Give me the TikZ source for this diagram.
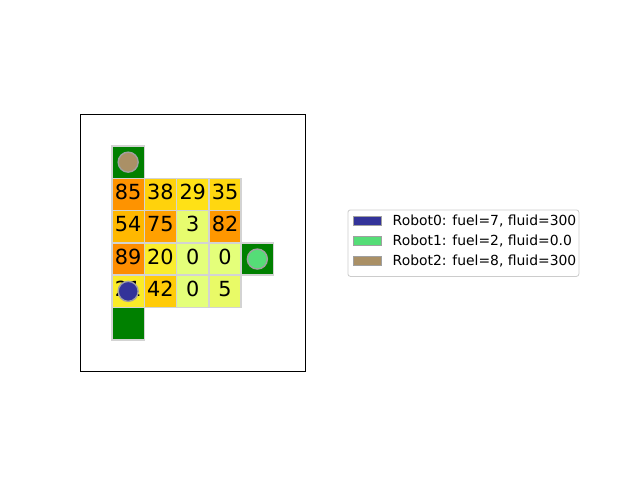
\documentclass[tikz,border=0pt]{standalone}
\usepackage{fontspec}
\setmainfont{DejaVu Sans}
\definecolor{c85}{RGB}{254,147,0}
\definecolor{c38}{RGB}{255,210,12}
\definecolor{c29}{RGB}{255,225,22}
\definecolor{c35}{RGB}{255,215,16}
\definecolor{c54}{RGB}{255,184,0}
\definecolor{c75}{RGB}{255,160,0}
\definecolor{c3}{RGB}{231,252,110}
\definecolor{c82}{RGB}{254,151,0}
\definecolor{c89}{RGB}{253,141,0}
\definecolor{c20}{RGB}{250,237,45}
\definecolor{c0}{RGB}{228,255,122}
\definecolor{c21}{RGB}{250,236,41}
\definecolor{c42}{RGB}{255,203,8}
\definecolor{c5}{RGB}{233,250,103}
\definecolor{goal}{RGB}{0,128,0}
\definecolor{celledge}{RGB}{211,211,211}
\definecolor{robotedge}{RGB}{160,160,160}
\definecolor{rzero}{RGB}{51,51,153}
\definecolor{rone}{RGB}{85,221,119}
\definecolor{rtwo}{RGB}{170,144,102}
\definecolor{legendedge}{RGB}{204,204,204}
\tikzset{
  cell/.style={draw=celledge, line width=1.6pt, minimum size=32.3pt, inner sep=0pt, outer sep=0pt},
  num/.style={font=\fontsize{20.8}{24}\selectfont, inner sep=0pt, yshift=2.5pt},
  robot/.style={circle, draw=robotedge, line width=1.4pt, minimum size=20pt, inner sep=0pt},
  handle/.style={draw=robotedge, line width=0.8pt, minimum width=27.5pt, minimum height=8.3pt, inner sep=0pt},
  legtext/.style={font=\fontsize{13.9}{16}\selectfont, inner sep=0pt, anchor=base west},
}
\begin{document}
\begin{tikzpicture}[x=1pt,y=-1pt]
\useasboundingbox (0,0) rectangle (640,480);
% axes frame
\draw[line width=0.8pt] (80.5,114.5) rectangle (305.5,371);
% row 0
\node[cell, fill=goal] (g0) at (128.15,162.15) {};
% row 1
\node[cell, fill=c85] (c10) at (128.15,194.45) {};
\node[cell, fill=c38] (c11) at (160.45,194.45) {};
\node[cell, fill=c29] (c12) at (192.75,194.45) {};
\node[cell, fill=c35] (c13) at (225.05,194.45) {};
% row 2
\node[cell, fill=c54] (c20) at (128.15,226.75) {};
\node[cell, fill=c75] (c21) at (160.45,226.75) {};
\node[cell, fill=c3] (c22) at (192.75,226.75) {};
\node[cell, fill=c82] (c23) at (225.05,226.75) {};
% row 3
\node[cell, fill=c89] (c30) at (128.15,259.05) {};
\node[cell, fill=c20] (c31) at (160.45,259.05) {};
\node[cell, fill=c0] (c32) at (192.75,259.05) {};
\node[cell, fill=c0] (c33) at (225.05,259.05) {};
\node[cell, fill=goal] (g1) at (257.35,259.05) {};
% row 4
\node[cell, fill=c21] (c40) at (128.15,291.35) {};
\node[cell, fill=c42] (c41) at (160.45,291.35) {};
\node[cell, fill=c0] (c42) at (192.75,291.35) {};
\node[cell, fill=c5] (c43) at (225.05,291.35) {};
% row 5
\node[cell, fill=goal] (g2) at (128.15,323.65) {};
% numbers
\node[num] (t10) at (c10.center) {85};
\node[num] (t11) at (c11.center) {38};
\node[num] (t12) at (c12.center) {29};
\node[num] (t13) at (c13.center) {35};
\node[num] (t20) at (c20.center) {54};
\node[num] (t21) at (c21.center) {75};
\node[num] (t22) at (c22.center) {3};
\node[num] (t23) at (c23.center) {82};
\node[num] (t30) at (c30.center) {89};
\node[num] (t31) at (c31.center) {20};
\node[num] (t32) at (c32.center) {0};
\node[num] (t33) at (c33.center) {0};
\node[num] (t40) at (c40.center) {21};
\node[num] (t41) at (c41.center) {42};
\node[num] (t42) at (c42.center) {0};
\node[num] (t43) at (c43.center) {5};
% robots
\node[robot, fill=rtwo] (rb2) at (g0.center) {};
\node[robot, fill=rone] (rb1) at (g1.center) {};
\node[robot, fill=rzero] (rb0) at (c40.center) {};
% legend
\node[draw=legendedge, line width=0.8pt, fill=white, rounded corners=2.5pt, anchor=north west,
      minimum width=231pt, minimum height=66.5pt, inner sep=0pt] (legend) at (347.5,209.5) {};
\node[handle, fill=rzero] (h0) at (367.2,220.8) {};
\node[handle, fill=rone] (h1) at (367.2,240.8) {};
\node[handle, fill=rtwo] (h2) at (367.2,260.8) {};
\node[legtext] (l0) at (392.5,225.2) {Robot0: fuel=7, fluid=300};
\node[legtext] (l1) at (392.5,245.2) {Robot1: fuel=2, fluid=0.0};
\node[legtext] (l2) at (392.5,265.2) {Robot2: fuel=8, fluid=300};
\end{tikzpicture}
\end{document}
